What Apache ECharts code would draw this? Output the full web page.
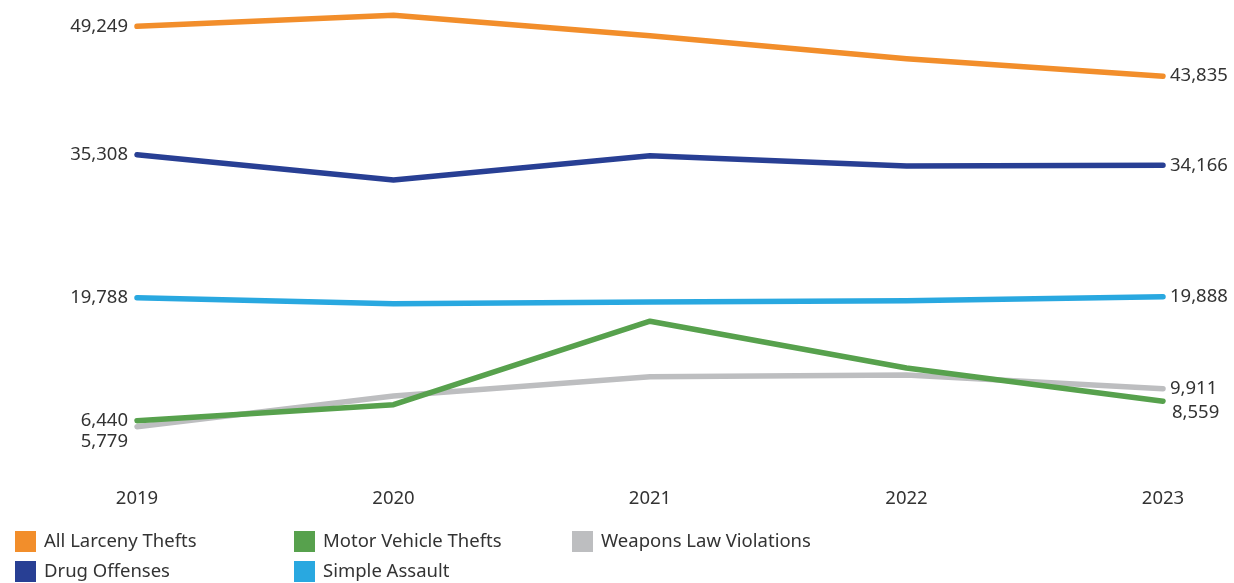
<!DOCTYPE html>
<html>
<head>
<meta charset="utf-8">
<script src="https://cdn.jsdelivr.net/npm/echarts@6/dist/echarts.min.js"></script>
<style>
  html, body { margin: 0; padding: 0; background: #fff; }
  #chart { width: 1234px; height: 583px; }
</style>
</head>
<body>
<div id="chart"></div>
<script>
// Reported offenses by year
const years = ['2019', '2020', '2021', '2022', '2023'];

const larceny  = [49249, 50444, 48217, 45719, 43835];
const drugs    = [35308, 32579, 35200, 34077, 34166];
const assault  = [19788, 19136, 19321, 19462, 19888];
const vehicle  = [6440, 8178, 17235, 12163, 8559];
const weapons  = [5779, 9113, 11209, 11394, 9911];

const names = {
  larceny: 'All Larceny Thefts',
  drugs: 'Drug Offenses',
  assault: 'Simple Assault',
  vehicle: 'Motor Vehicle Thefts',
  weapons: 'Weapons Law Violations'
};

const colors = {
  larceny: '#F28E2B',
  drugs: '#283F94',
  assault: '#29A8E0',
  vehicle: '#57A14D',
  weapons: '#BDBEC0'
};

const FONT = 'Noto Sans';
const fmt = v => v.toLocaleString('en-US');

// Only the first and last points carry a value label
function buildData(values, startOffset, endOffset) {
  return values.map((v, i) => {
    const item = { value: v };
    if (i === 0) {
      item.label = { show: true, position: 'left', distance: 9, offset: startOffset || [0, 0] };
    } else if (i === values.length - 1) {
      item.label = { show: true, position: 'right', distance: 7, offset: endOffset || [0, 0] };
    }
    return item;
  });
}

function lineSeries(key, values, startOffset, endOffset) {
  return {
    name: names[key],
    type: 'line',
    data: buildData(values, startOffset, endOffset),
    symbol: 'circle',
    symbolSize: 0,
    showSymbol: true,
    color: colors[key],
    lineStyle: { width: 5.5, color: colors[key], cap: 'round', join: 'round' },
    itemStyle: { color: colors[key] },
    label: {
      show: false,
      formatter: p => fmt(p.value),
      color: '#333',
      fontFamily: FONT,
      fontSize: 18.5
    },
    emphasis: { disabled: true },
    z: 2
  };
}

// One legend entry per block so the entries sit on a fixed two-row grid
function legendItem(key, left, top) {
  return {
    left: left,
    top: top,
    orient: 'horizontal',
    icon: 'rect',
    itemWidth: 21,
    itemHeight: 21,
    selectedMode: false,
    data: [names[key]],
    textStyle: { color: '#333', fontFamily: FONT, fontSize: 18.5, padding: [2, 0, 0, 3] }
  };
}

const option = {
  animation: false,
  backgroundColor: '#fff',
  grid: { left: 137, right: 71, top: 1, bottom: 103, containLabel: false },
  xAxis: {
    type: 'category',
    data: years,
    boundaryGap: false,
    axisLine: { show: false },
    axisTick: { show: false },
    axisLabel: { color: '#333', fontFamily: FONT, fontSize: 18.5, margin: 9 },
    splitLine: { show: false }
  },
  yAxis: {
    type: 'value',
    min: 0,
    max: 52000,
    show: false,
    splitLine: { show: false }
  },
  legend: [
    legendItem('larceny', 10, 526),
    legendItem('drugs', 10, 556),
    legendItem('vehicle', 289, 526),
    legendItem('assault', 289, 556),
    legendItem('weapons', 567, 526)
  ],
  series: [
    lineSeries('larceny', larceny),
    lineSeries('drugs', drugs),
    lineSeries('assault', assault),
    lineSeries('weapons', weapons, [0, 15], [0, 0]),
    lineSeries('vehicle', vehicle, [0, 0], [2, 12])
  ]
};

const chart = echarts.init(document.getElementById('chart'), null, { renderer: 'canvas' });
chart.setOption(option);
</script>
</body>
</html>
